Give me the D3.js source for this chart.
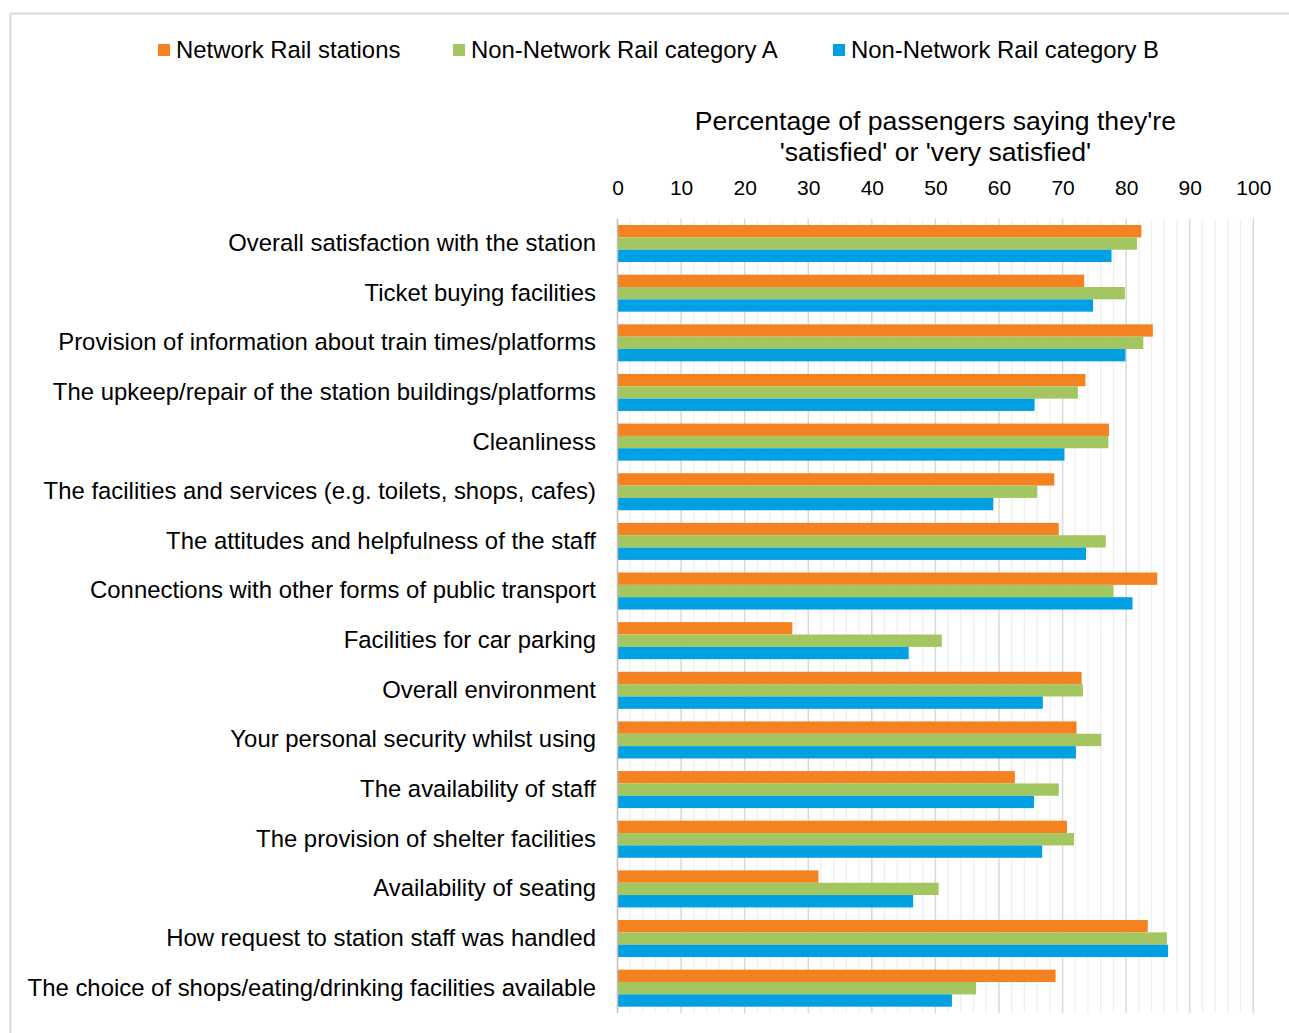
<!DOCTYPE html>
<html>
<head>
<meta charset="utf-8">
<script src="https://cdn.jsdelivr.net/npm/d3@7"></script>
<style>
  html, body { margin: 0; padding: 0; background: #fff; }
  svg { display: block; font-family: "Liberation Sans", Arial, sans-serif; }
</style>
</head>
<body>
<svg id="chart" width="1289" height="1033"></svg>
<script>
const categories = [
  "Overall satisfaction with the station",
  "Ticket buying facilities",
  "Provision of information about train times/platforms",
  "The upkeep/repair of the station buildings/platforms",
  "Cleanliness",
  "The facilities and services (e.g. toilets, shops, cafes)",
  "The attitudes and helpfulness of the staff",
  "Connections with other forms of public transport",
  "Facilities for car parking",
  "Overall environment",
  "Your personal security whilst using",
  "The availability of staff",
  "The provision of shelter facilities",
  "Availability of seating",
  "How request to station staff was handled",
  "The choice of shops/eating/drinking facilities available"
];
const seriesNames = ["Network Rail stations", "Non-Network Rail category A", "Non-Network Rail category B"];
const networkRail = [82.4, 73.4, 84.2, 73.6, 77.3, 68.7, 69.4, 84.9, 27.5, 73.0, 72.2, 62.5, 70.7, 31.6, 83.4, 68.9];
const categoryA   = [81.7, 79.8, 82.7, 72.4, 77.2, 66.0, 76.8, 78.0, 51.0, 73.2, 76.1, 69.4, 71.8, 50.5, 86.4, 56.4];
const categoryB   = [77.7, 74.8, 79.9, 65.6, 70.3, 59.1, 73.7, 81.0, 45.8, 66.9, 72.1, 65.5, 66.8, 46.5, 86.6, 52.6];
const colors = ["#F58220", "#A4C661", "#00A0E3"];
const xTicks = [0, 10, 20, 30, 40, 50, 60, 70, 80, 90, 100];
const titleLines = ["Percentage of passengers saying they're", "'satisfied' or 'very satisfied'"];

const seriesData = [networkRail, categoryA, categoryB];
const svg = d3.select("#chart");

// outer frame
svg.append("line").attr("x1", 10).attr("x2", 1289).attr("y1", 13.5).attr("y2", 13.5).attr("stroke", "#d9d9d9").attr("stroke-width", 2);
svg.append("line").attr("x1", 10.5).attr("x2", 10.5).attr("y1", 13).attr("y2", 1033).attr("stroke", "#d9d9d9").attr("stroke-width", 2);

const plotLeft = 617.5, plotRight = 1253.3, plotTop = 218.7, plotBottom = 1013;
const x = d3.scaleLinear().domain([0, 100]).range([plotLeft, plotRight]);
const y = d3.scaleBand().domain(categories).range([plotTop, plotBottom]).paddingInner(0.254).paddingOuter(0.127);
const ySub = d3.scaleBand().domain(d3.range(3)).range([0, y.bandwidth()]);

// minor gridlines
const minor = d3.range(0, 101, 2).filter(v => v % 10 !== 0);
svg.append("g").selectAll("line").data(minor).join("line")
  .attr("x1", d => x(d)).attr("x2", d => x(d)).attr("y1", plotTop).attr("y2", plotBottom)
  .attr("stroke", "#efefef").attr("stroke-width", 1.3);
// major gridlines
svg.append("g").selectAll("line").data(xTicks.filter(v => v > 0)).join("line")
  .attr("x1", d => x(d)).attr("x2", d => x(d)).attr("y1", plotTop).attr("y2", plotBottom)
  .attr("stroke", "#d9d9d9").attr("stroke-width", 1.5);

// bars
categories.forEach((c, i) => {
  seriesData.forEach((s, j) => {
    svg.append("rect")
      .attr("x", x(0))
      .attr("y", y(c) + ySub(j))
      .attr("width", x(s[i]) - x(0))
      .attr("height", ySub.bandwidth())
      .attr("fill", colors[j]);
  });
});

// zero axis line
svg.append("line").attr("x1", x(0)).attr("x2", x(0)).attr("y1", plotTop).attr("y2", plotBottom)
  .attr("stroke", "#bfbfbf").attr("stroke-width", 1.5);

// top axis tick labels
const axis = d3.axisTop(x).tickValues(xTicks).tickSize(0).tickPadding(0);
const gAxis = svg.append("g").attr("transform", `translate(0,${195})`).call(axis);
gAxis.select(".domain").remove();
gAxis.selectAll("text").attr("font-size", 21).attr("fill", "#000").attr("font-family", "'Liberation Sans', Arial, sans-serif");

// category labels
svg.append("g").selectAll("text").data(categories).join("text")
  .attr("x", 596).attr("y", d => y(d) + y.bandwidth() / 2)
  .attr("dy", "0.31em").attr("text-anchor", "end")
  .attr("font-size", 23.9).attr("fill", "#000").text(d => d);

// axis title
svg.append("g").selectAll("text").data(titleLines).join("text")
  .attr("x", (plotLeft + plotRight) / 2).attr("y", (d, i) => 129.5 + i * 31)
  .attr("text-anchor", "middle").attr("font-size", 26.6).attr("fill", "#000").text(d => d);

// legend
const legendX = [158, 453, 833];
const lg = svg.append("g");
seriesNames.forEach((n, j) => {
  lg.append("rect").attr("x", legendX[j]).attr("y", 44).attr("width", 12).attr("height", 12).attr("fill", colors[j]);
  lg.append("text").attr("x", legendX[j] + 18).attr("y", 58).attr("font-size", 23.9).attr("fill", "#000").text(n);
});
</script>
</body>
</html>
